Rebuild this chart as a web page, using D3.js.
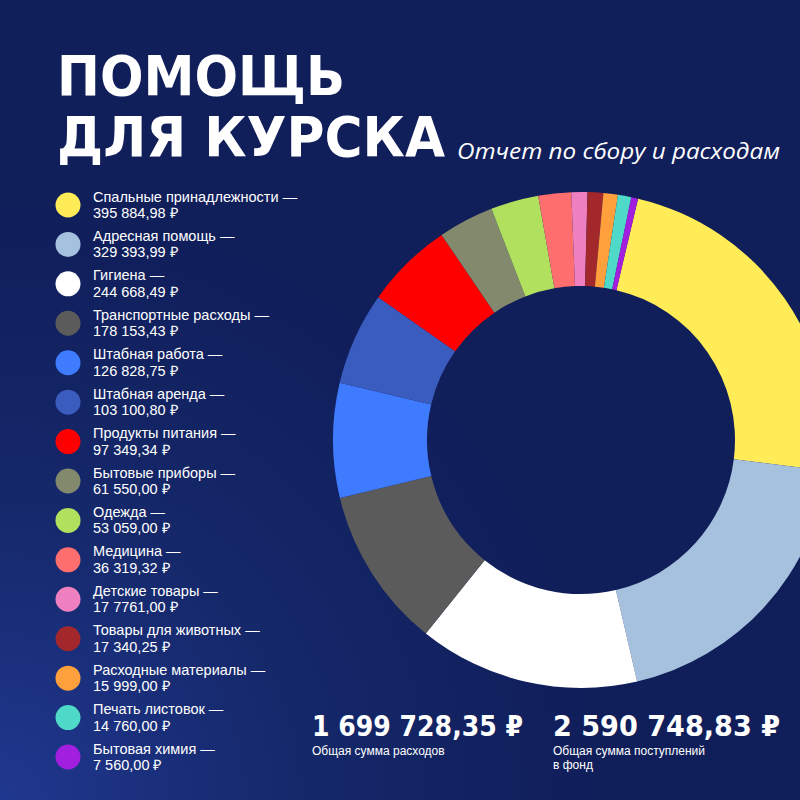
<!DOCTYPE html>
<html>
<head>
<meta charset="utf-8">
<script src="https://cdn.jsdelivr.net/npm/d3@7"></script>
<style>
  html, body { margin: 0; padding: 0; background: #101e5a; }
  svg { display: block; }
</style>
</head>
<body>
<svg id="chart" width="800" height="800"></svg>
<script>
// ---- Data ----
const categories = [
  "Спальные принадлежности",
  "Адресная помощь",
  "Гигиена",
  "Транспортные расходы",
  "Штабная работа",
  "Штабная аренда",
  "Продукты питания",
  "Бытовые приборы",
  "Одежда",
  "Медицина",
  "Детские товары",
  "Товары для животных",
  "Расходные материалы",
  "Печать листовок",
  "Бытовая химия"
];
const values = [395884.98, 329393.99, 244668.49, 178153.43, 126828.75, 103100.80, 97349.34,
                61550.00, 53059.00, 36319.32, 17761.00, 17340.25, 15999.00, 14760.00, 7560.00];
const valueLabels = ["395 884,98 ₽", "329 393,99 ₽", "244 668,49 ₽", "178 153,43 ₽", "126 828,75 ₽",
                     "103 100,80 ₽", "97 349,34 ₽", "61 550,00 ₽", "53 059,00 ₽", "36 319,32 ₽",
                     "17 7761,00 ₽", "17 340,25 ₽", "15 999,00 ₽", "14 760,00 ₽", "7 560,00 ₽"];
const colors = ["#ffec57", "#a6c1dd", "#ffffff", "#5b5b5b", "#3f7bff", "#3a5cbf", "#ff0000",
                "#82896c", "#b0e05e", "#ff6e6e", "#ee80c0", "#a3282c", "#ffa03c", "#4fd9c9", "#a21fe0"];
const totals = ["1 699 728,35 ₽", "2 590 748,83 ₽"];
const totalLabels = [["Общая сумма расходов"], ["Общая сумма поступлений", "в фонд"]];
const titleLines = ["ПОМОЩЬ", "ДЛЯ КУРСКА"];
const subtitle = "Отчет по сбору и расходам";

// ---- Drawing ----
const svg = d3.select("#chart");
const defs = svg.append("defs");
const grad = defs.append("radialGradient")
  .attr("id", "bg").attr("gradientUnits", "userSpaceOnUse")
  .attr("cx", 0).attr("cy", 800).attr("r", 600);
grad.append("stop").attr("offset", "0").attr("stop-color", "#20378f");
grad.append("stop").attr("offset", "0.5").attr("stop-color", "#15286a");
grad.append("stop").attr("offset", "1").attr("stop-color", "#101e5a");
svg.append("rect").attr("width", 800).attr("height", 800).attr("fill", "url(#bg)");

// Title
const titleFont = "'DejaVu Sans', 'Noto Sans', sans-serif";
const title = svg.append("text")
  .attr("font-family", titleFont).attr("font-weight", 700).attr("font-size", 56).attr("fill", "#fff");
title.append("tspan").attr("x", 57).attr("y", 95)
  .attr("textLength", 288).attr("lengthAdjust", "spacingAndGlyphs").text(titleLines[0]);
title.append("tspan").attr("x", 57).attr("y", 156)
  .attr("textLength", 388).attr("lengthAdjust", "spacingAndGlyphs").text(titleLines[1]);
svg.append("text").attr("x", 457).attr("y", 159)
  .attr("font-family", "'Open Sans', 'Noto Sans', sans-serif").attr("font-style", "italic")
  .attr("font-size", 22).attr("fill", "#fff")
  .attr("textLength", 323).attr("lengthAdjust", "spacingAndGlyphs")
  .text(subtitle);

// Donut
const cx = 581, cy = 440;
const startA = 13.3 * Math.PI / 180;
const pie = d3.pie().sort(null).value(d => d).startAngle(startA).endAngle(startA + 2 * Math.PI);
const arc = d3.arc().innerRadius(154).outerRadius(248);
const color = d3.scaleOrdinal().domain(d3.range(values.length)).range(colors);
svg.append("g").attr("transform", `translate(${cx},${cy})`)
  .selectAll("path").data(pie(values)).join("path")
  .attr("d", arc).attr("fill", (d, i) => color(i));

// Legend
const ly = d3.scalePoint().domain(d3.range(categories.length)).range([205, 757]);
const lg = svg.append("g").attr("font-family", "'Liberation Sans', Arial, sans-serif").attr("fill", "#fff");
categories.forEach((c, i) => {
  const y = ly(i);
  lg.append("circle").attr("cx", 68).attr("cy", y).attr("r", 12.5).attr("fill", color(i));
  const t = lg.append("text").attr("font-size", 14.5);
  t.append("tspan").attr("x", 93).attr("y", y - 3.5).text(c + " —");
  t.append("tspan").attr("x", 93).attr("y", y + 13).text(valueLabels[i]);
});

// Totals
const tx = [312, 553];
const tw = [211, 227];
totals.forEach((t, i) => {
  svg.append("text").attr("x", tx[i]).attr("y", 736)
    .attr("font-family", "'DejaVu Sans', sans-serif").attr("font-weight", 700).attr("font-size", 29)
    .attr("fill", "#fff").attr("textLength", tw[i]).attr("lengthAdjust", "spacingAndGlyphs")
    .text(t);
  const lt = svg.append("text")
    .attr("font-family", "'Liberation Sans', Arial, sans-serif").attr("font-size", 12).attr("fill", "#fff");
  totalLabels[i].forEach((l, j) => {
    lt.append("tspan").attr("x", tx[i]).attr("y", 755 + j * 14).text(l);
  });
});
</script>
</body>
</html>
